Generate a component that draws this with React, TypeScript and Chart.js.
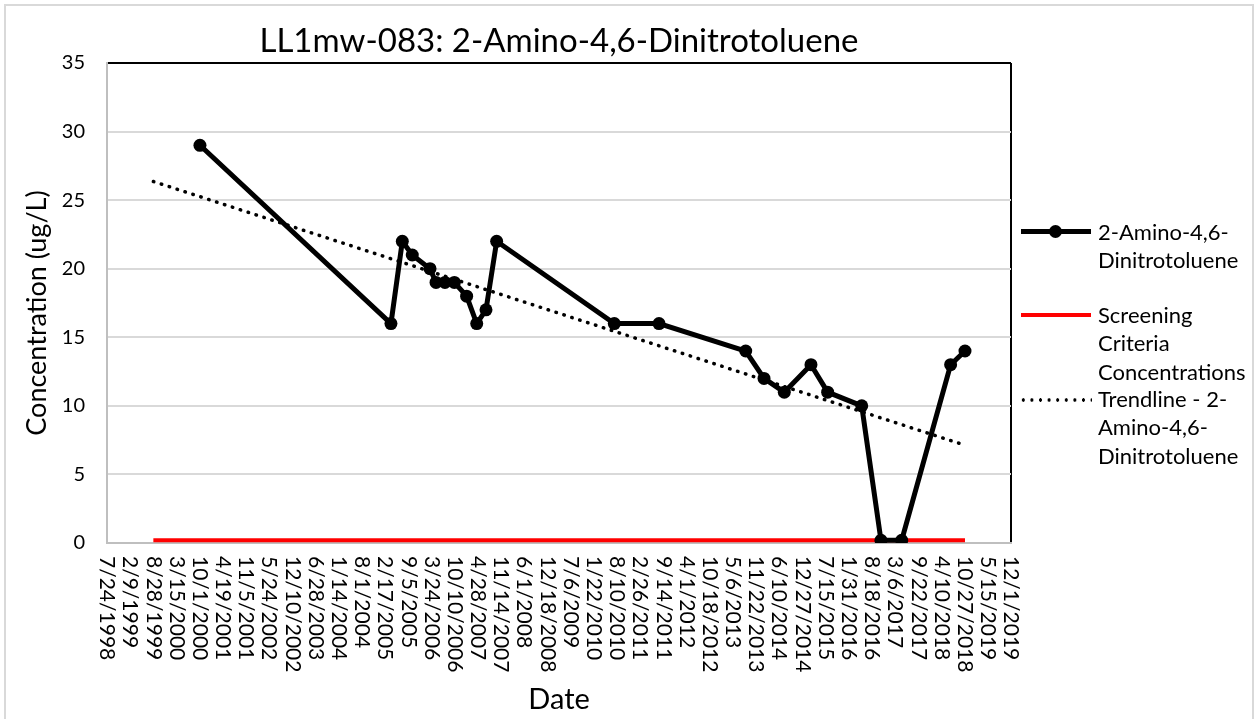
import React, { useEffect, useRef } from 'react';
import { Chart, registerables } from 'chart.js';

Chart.register(...registerables);

// ---- data ----
const chartTitle = 'LL1mw-083: 2-Amino-4,6-Dinitrotoluene';
const xAxisTitle = 'Date';
const yAxisTitle = 'Concentration (ug/L)';

const sampleDates = [
  '2000-10-03', '2005-04-08', '2005-07-15', '2005-10-09', '2006-03-11', '2006-05-02',
  '2006-07-18', '2006-10-07', '2007-01-21', '2007-04-18', '2007-07-07', '2007-10-07',
  '2010-07-18', '2011-08-08', '2013-08-25', '2014-01-30', '2014-07-24', '2015-03-11',
  '2015-08-02', '2016-05-22', '2016-11-04', '2017-05-02', '2018-06-28', '2018-10-30',
];
const concentrations = [
  29, 16, 22, 21, 20, 19,
  19, 19, 18, 16, 17, 22,
  16, 16, 14, 12, 11, 13,
  11, 10, 0.2, 0.2, 13, 14,
];

const screeningDates = ['1999-08-28', '2018-10-30'];
const screeningValues = [0.2, 0.2];

const trendDates = ['1999-08-28', '2018-10-30'];
const trendValues = [26.36, 7.13];

const axisStartDate = '1998-07-24';
const axisEndDate = '2019-12-01';
const xTickStepDays = 200;
const yMin = 0;
const yMax = 35;
const yStep = 5;

const legendLabels = [
  ['2-Amino-4,6-', 'Dinitrotoluene'],
  ['Screening', 'Criteria', 'Concentrations'],
  ['Trendline - 2-', 'Amino-4,6-', 'Dinitrotoluene'],
];

// ---- helpers ----
const DAY_MS = 86400000;
const parseUTC = (s: string) => {
  const [y, m, d] = s.split('-').map(Number);
  return Date.UTC(y, m - 1, d);
};
const originMs = parseUTC(axisStartDate);
const toDay = (s: string) => Math.round((parseUTC(s) - originMs) / DAY_MS);
const fmtDay = (v: number) => {
  const dt = new Date(originMs + Math.round(v) * DAY_MS);
  return `${dt.getUTCMonth() + 1}/${dt.getUTCDate()}/${dt.getUTCFullYear()}`;
};

const FONT = 'Lato';

const textPlugin = {
  id: 'customTexts',
  afterDraw(chart: any) {
    const sc = chart.scales.x;
    const ctx = chart.ctx;
    ctx.save();
    ctx.font = `21px ${FONT}`;
    ctx.fillStyle = '#000';
    ctx.textAlign = 'left';
    ctx.textBaseline = 'middle';
    sc.ticks.forEach((t: any) => {
      const x = sc.getPixelForValue(t.value);
      ctx.save();
      ctx.translate(x, sc.top + 13);
      ctx.rotate(Math.PI / 2);
      ctx.fillText(fmtDay(t.value), 0, 0);
      ctx.restore();
    });
    // y axis title
    ctx.font = `27px ${FONT}`;
    ctx.textAlign = 'center';
    ctx.save();
    ctx.translate(37, 313);
    ctx.rotate(-Math.PI / 2);
    ctx.fillText(yAxisTitle, 0, 0);
    ctx.restore();
    ctx.restore();
  },
};

export default function App() {
  const canvasRef = useRef<HTMLCanvasElement | null>(null);

  useEffect(() => {
    if (!canvasRef.current) return;
    const xMax = toDay(axisEndDate);
    const chart = new Chart(canvasRef.current, {
      type: 'line',
      data: {
        datasets: [
          {
            label: legendLabels[2].join(' '),
            data: trendDates.map((d, i) => ({ x: toDay(d), y: trendValues[i] })),
            borderColor: '#000',
            borderWidth: 3.5,
            borderDash: [0.5, 7.8],
            borderCapStyle: 'round',
            pointRadius: 0,
            fill: false,
            order: 0,
          },
          {
            label: legendLabels[0].join(''),
            data: sampleDates.map((d, i) => ({ x: toDay(d), y: concentrations[i] })),
            borderColor: '#000',
            backgroundColor: '#000',
            borderWidth: 5,
            pointRadius: 6.5,
            pointBorderWidth: 0,
            pointBackgroundColor: '#000',
            fill: false,
            order: 1,
          },
          {
            label: legendLabels[1].join(' '),
            data: screeningDates.map((d, i) => ({ x: toDay(d), y: screeningValues[i] })),
            borderColor: '#ff0000',
            borderWidth: 4,
            pointRadius: 0,
            fill: false,
            order: 2,
          },
        ],
      },
      options: {
        animation: false,
        responsive: false,
        devicePixelRatio: 1,
        layout: { padding: { left: 0, right: 243, top: 0, bottom: 0 } },
        plugins: {
          legend: { display: false },
          tooltip: { enabled: false },
          title: {
            display: true,
            text: chartTitle,
            fullSize: false,
            color: '#000',
            font: { family: FONT, size: 33, weight: 'normal', lineHeight: 1.2 },
            padding: { top: 21.7, bottom: 1.7 },
          },
        },
        scales: {
          x: {
            type: 'linear',
            min: 0,
            max: xMax,
            afterFit: (s: any) => { s.height = 719 - 543; },
            ticks: { display: false, stepSize: xTickStepDays },
            grid: {
              drawTicks: false,
              lineWidth: 2,
              color: (c: any) => (c.tick && c.tick.value === xMax ? '#000' : 'rgba(0,0,0,0)'),
            },
            border: { display: true, color: '#bfbfbf', width: 2 },
            title: {
              display: true,
              text: xAxisTitle,
              color: '#000',
              font: { family: FONT, size: 29, lineHeight: 1.2 },
              padding: { top: 0, bottom: 2 },
            },
          },
          y: {
            type: 'linear',
            min: yMin,
            max: yMax,
            afterFit: (s: any) => { s.width = 107; },
            ticks: {
              stepSize: yStep,
              color: '#000',
              padding: 22,
              font: { family: FONT, size: 20 },
            },
            grid: {
              drawTicks: false,
              lineWidth: 2,
              color: (c: any) => (c.tick && c.tick.value === yMax ? '#000' : '#d9d9d9'),
            },
            border: { display: true, color: '#bfbfbf', width: 2 },
            title: { display: false },
          },
        },
      },
      plugins: [textPlugin],
    } as any);
    return () => chart.destroy();
  }, []);

  const textStyle: React.CSSProperties = {
    position: 'absolute',
    left: 1098,
    fontFamily: FONT,
    fontSize: 22,
    lineHeight: '28.7px',
    color: '#000',
    whiteSpace: 'nowrap',
  };

  return (
    <div style={{ position: 'fixed', left: 0, top: 0, width: 1254, height: 719, background: '#fff', overflow: 'hidden' }}>
      <div style={{ position: 'absolute', left: 4, top: 4, width: 1250, height: 730, border: '2px solid #d9d9d9', boxSizing: 'border-box' }} />
      <canvas ref={canvasRef} width={1254} height={719} style={{ position: 'absolute', left: 0, top: 0, width: 1254, height: 719 }} />
      {/* legend */}
      <div style={{ position: 'absolute', left: 1021, top: 229, width: 70, height: 5, background: '#000' }} />
      <div style={{ position: 'absolute', left: 1049, top: 225, width: 13, height: 13, borderRadius: '50%', background: '#000' }} />
      <div style={{ ...textStyle, top: 217.6 }}>{legendLabels[0].map((l, i) => <div key={i}>{l}</div>)}</div>
      <div style={{ position: 'absolute', left: 1021, top: 313, width: 70, height: 4, background: '#ff0000' }} />
      <div style={{ ...textStyle, top: 300.6 }}>{legendLabels[1].map((l, i) => <div key={i}>{l}</div>)}</div>
      <div style={{ position: 'absolute', left: 1019, top: 398, width: 73, height: 4, backgroundImage: 'radial-gradient(circle, #000 1.5px, rgba(0,0,0,0) 1.9px)', backgroundSize: '8.6px 4px' }} />
      <div style={{ ...textStyle, top: 384.6 }}>{legendLabels[2].map((l, i) => <div key={i}>{l}</div>)}</div>
    </div>
  );
}
